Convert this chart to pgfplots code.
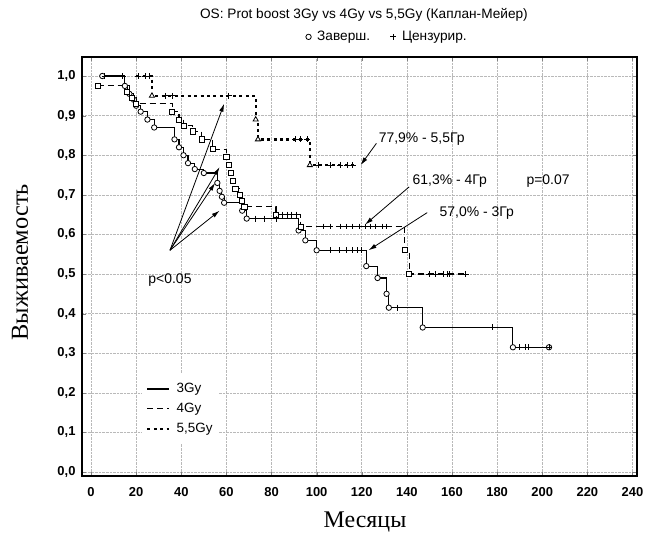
\documentclass[border=0pt]{standalone}
\usepackage{fontspec}
\setmainfont{Liberation Sans}
\newfontfamily\serifcyr{Liberation Serif}
\usepackage{pgfplots}
\pgfplotsset{compat=1.18}
\usetikzlibrary{arrows.meta}

% Kaplan-Meier steps
\pgfplotstableread{
x y
5 1.0
15 0.975
17 0.955
19 0.94
20 0.925
22 0.91
25 0.89
28 0.87
37 0.84
39 0.82
41 0.80
43 0.78
46 0.765
50 0.755
56 0.73
57 0.71
58 0.695
59 0.68
67 0.66
69 0.64
92 0.61
95 0.585
100 0.56
122 0.52
127 0.49
131 0.45
132 0.415
147 0.365
187 0.315
203 0.315
}\gyA
\pgfplotstableread{
x y
3 0.975
16 0.96
18 0.945
20 0.93
36 0.91
39 0.89
41 0.875
45 0.86
49 0.84
54 0.815
60 0.795
61 0.775
62 0.755
63 0.735
64 0.715
66 0.70
67 0.685
68 0.67
82 0.65
93 0.62
139 0.56
141 0.50
166 0.50
}\gyB
\pgfplotstableread{
x y
20 1.0
27 0.95
73 0.89
74 0.84
97 0.775
118 0.775
}\gyC

\begin{document}
\begin{tikzpicture}
\begin{axis}[
    name=main,
    width=555bp, height=419bp, scale only axis,
    xmin=-4, xmax=242, ymin=-0.01, ymax=1.048,
    xtick={0,20,...,240},
    ytick={0,0.1,...,1.0},
    yticklabel style={/pgf/number format/fixed, /pgf/number format/fixed zerofill,
        /pgf/number format/precision=1, /pgf/number format/use comma, xshift=-3bp},
    /pgf/number format/assume math mode=true,
    tick label style={font=\bfseries\fontsize{13}{15}\selectfont},
    xticklabel style={yshift=-8bp},
    tick align=inside, major tick length=4bp,
    axis line style={line width=1.3pt},
    grid=major, major grid style={densely dotted, gray!55, line width=0.6pt},
    clip=false,
    legend style={at={(rel axis cs:0.108,0.245)}, anchor=north west, draw=none, fill=white,
        font=\fontsize{13.5}{15}\selectfont, row sep=5bp, inner xsep=4bp, inner ysep=8bp},
    legend cell align=left,
    legend image post style={xscale=1.25},
]
\addplot[const plot, black, line width=1.1pt] table {\gyA};
\addlegendentry{\hspace{5bp}3Gy}
\addplot[const plot, black, line width=1.1pt, dash pattern=on 6pt off 4pt] table {\gyB};
\addlegendentry{\hspace{5bp}4Gy}
\addplot[const plot, black, line width=2.3pt, dash pattern=on 3pt off 3.5pt] table {\gyC};
\addlegendentry{\hspace{5bp}5,5Gy}

% completed (events)
\addplot[only marks, mark=*, mark size=2.7pt, mark options={fill=white, draw=black, line width=0.8pt, solid}, forget plot]
  table[skip first n=1] {\gyA};
\addplot[only marks, mark=square*, mark size=2.6pt, mark options={fill=white, draw=black, line width=0.8pt, solid}, forget plot]
  coordinates {(3,0.975) (16,0.96) (18,0.945) (20,0.93) (36,0.91) (39,0.89) (41,0.875) (45,0.86) (49,0.84) (54,0.815)
  (60,0.795) (61,0.775) (62,0.755) (63,0.735) (64,0.715) (66,0.70) (67,0.685) (68,0.67) (82,0.65) (93,0.62)
  (139,0.56) (141,0.50)};
\addplot[only marks, mark=triangle*, mark size=3pt, mark options={fill=white, draw=black, line width=0.8pt, solid}, forget plot]
  coordinates {(27,0.95) (73,0.89) (74,0.84) (97,0.775)};

% censored
\addplot[only marks, mark=+, mark size=3pt, mark options={solid, line width=0.9pt}, forget plot] coordinates {
  (6,1.0) (14,1.0) (73,0.64) (77,0.64) (82,0.64)
  (106,0.56) (110,0.56) (113,0.56) (116,0.56) (118,0.56) (120,0.56)
  (136,0.415) (178,0.365) (190,0.315) (192.5,0.315) (194,0.315) (203,0.315)};
\addplot[only marks, mark=+, mark size=3pt, mark options={solid, line width=0.9pt}, forget plot] coordinates {
  (85,0.65) (87,0.65) (89,0.65) (91,0.65)
  (103,0.62) (106,0.62) (110.5,0.62) (113,0.62) (116,0.62) (119,0.62) (121.5,0.62) (124,0.62) (126,0.62) (129,0.62) (131,0.62)
  (150,0.50) (152.5,0.50) (156,0.50) (158,0.50) (159,0.50) (166,0.50)};
\addplot[only marks, mark=+, mark size=3pt, mark options={solid, line width=0.9pt}, forget plot] coordinates {
  (21,1.0) (24,1.0) (26,1.0) (33,0.95) (36,0.95) (61,0.95)
  (90.5,0.84) (92.7,0.84) (95.8,0.84)
  (100.7,0.775) (106,0.775) (110.5,0.775) (113.6,0.775) (116,0.775)};

% annotations
\draw[-{Latex[length=8pt,width=4.5pt]}, line width=0.8pt] (axis cs:35,0.56) -- (axis cs:59,0.93);
\draw[-{Latex[length=8pt,width=4.5pt]}, line width=0.8pt] (axis cs:35,0.56) -- (axis cs:57,0.77);
\draw[-{Latex[length=8pt,width=4.5pt]}, line width=0.8pt] (axis cs:35,0.56) -- (axis cs:55,0.73);
\draw[-{Latex[length=8pt,width=4.5pt]}, line width=0.8pt] (axis cs:35,0.56) -- (axis cs:57,0.66);
\node[font=\fontsize{14}{16}\selectfont] at (axis cs:35,0.485) {p<0.05};

\draw[-{Latex[length=8pt,width=4.5pt]}, line width=0.8pt] (axis cs:126.5,0.83) -- (axis cs:119.5,0.775);
\node[anchor=west, font=\fontsize{14}{16}\selectfont] at (axis cs:126,0.84) {77,9\% - 5,5Гр};
\draw[-{Latex[length=8pt,width=4.5pt]}, line width=0.8pt] (axis cs:141,0.72) -- (axis cs:121.5,0.625);
\node[anchor=west, font=\fontsize{14}{16}\selectfont] at (axis cs:141,0.735) {61,3\% - 4Гр};
\draw[-{Latex[length=8pt,width=4.5pt]}, line width=0.8pt] (axis cs:149,0.655) -- (axis cs:123,0.56);
\node[anchor=west, font=\fontsize{14}{16}\selectfont] at (axis cs:153,0.655) {57,0\% - 3Гр};
\node[anchor=west, font=\fontsize{14}{16}\selectfont] at (axis cs:191.5,0.735) {p=0.07};

% titles and axis labels
\node[font=\fontsize{13.7}{15}\selectfont, yshift=42bp] at (rel axis cs:0.508,1) {OS: Prot boost 3Gy vs 4Gy vs 5,5Gy (Каплан-Мейер)};
\node[font=\serifcyr\fontsize{24}{28}\selectfont, yshift=-46bp] at (rel axis cs:0.51,0) {Месяцы};
\node[font=\serifcyr\fontsize{24.5}{28}\selectfont, xshift=-62bp, rotate=90] at (rel axis cs:0,0.51) {Выживаемость};
\end{axis}

\begin{axis}[
    width=555bp, height=419bp, scale only axis, hide axis,
    xmin=0, xmax=1, ymin=0, ymax=1,
    legend columns=2,
    legend style={at={(rel axis cs:0.55,1.048)}, anchor=center, draw=none, fill=none,
        font=\fontsize{13.7}{15}\selectfont, /tikz/every even column/.append style={column sep=18bp}},
]
\addlegendimage{only marks, mark=o, mark size=2.7pt, line width=0.8pt}
\addlegendentry{\hspace{4bp}Заверш.}
\addlegendimage{only marks, mark=+, mark size=3pt, line width=0.9pt}
\addlegendentry{\hspace{4bp}Цензурир.}
\end{axis}

\pgfresetboundingbox
\path[use as bounding box] ([shift={(-82bp,-58bp)}]main.south west) rectangle ([shift={(12bp,57bp)}]main.north east);
\end{tikzpicture}
\end{document}
